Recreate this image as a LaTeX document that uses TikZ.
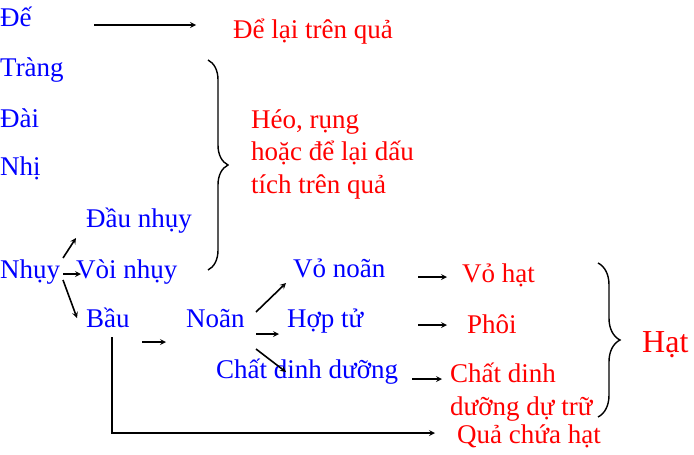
\documentclass[tikz,border=0pt]{standalone}
\usepackage{fontspec}
\setmainfont{Liberation Serif}
\usetikzlibrary{decorations.pathreplacing}
\begin{document}
\begin{tikzpicture}[x=1pt, y=1pt, >=stealth, font=\fontsize{27}{32.5}\selectfont]
    \tikzstyle{organ} = [text=blue, anchor=base west, inner sep=0pt]
    \tikzstyle{fate} = [text=red, anchor=base west, inner sep=0pt, align=left]
    \tikzstyle{link} = [->, line width=1.6pt]
    \tikzstyle{bracket} = [decorate, line width=1.4pt]
    \useasboundingbox (0,0) rectangle (694,-455);

    % flower parts
    \node [organ] (de) at (0,-26) {Đế};
    \node [organ] (trang) at (0,-76) {Tràng};
    \node [organ] (dai) at (0,-127) {Đài};
    \node [organ] (nhi) at (0,-175) {Nhị};
    \node [organ] (daunhuy) at (86,-227) {Đầu nhụy};
    \node [organ] (nhuy) at (0,-278) {Nhụy};
    \node [organ] (voinhuy) at (76,-278) {Vòi nhụy};
    \node [organ] (bau) at (86,-327) {Bầu};
    \node [organ] (noan) at (186,-327) {Noãn};
    \node [organ] (vonoan) at (293,-277) {Vỏ noãn};
    \node [organ] (hoptu) at (287,-327) {Hợp tử};
    \node [organ] (chatdd) at (216,-378) {Chất dinh dưỡng};

    % what they become
    \node [fate] (delai) at (233,-38) {Để lại trên quả};
    \node [fate] (heo) at (251,-193) {Héo, rụng\\hoặc để lại dấu\\tích trên quả};
    \node [fate] (vohat) at (462,-282) {Vỏ hạt};
    \node [fate] (phoi) at (467,-333) {Phôi};
    \node [fate, font=\fontsize{27}{33}\selectfont] (chatdt) at (450,-415) {Chất dinh\\dưỡng dự trữ};
    \node [fate] (qua) at (457,-443) {Quả chứa hạt};
    \node [fate, font=\fontsize{32}{36}\selectfont] (hat) at (642,-352) {Hạt};

    \draw [link] ([shift={(94,1)}]de.base west) -- ([shift={(-37,13)}]delai.base west);
    \draw [link] ([shift={(63,20)}]nhuy.base west) -- ([shift={(-10,-11)}]daunhuy.base west);
    \draw [link] ([shift={(63,4)}]nhuy.base west) -- ([shift={(5,4)}]voinhuy.base west);
    \draw [link] ([shift={(63,-2)}]nhuy.base west) -- ([shift={(-9,9)}]bau.base west);
    \draw [link] ([shift={(56,-15)}]bau.base west) -- ([shift={(-20,-15)}]noan.base west);
    \draw [link] ([shift={(70,15)}]noan.base west) -- ([shift={(-7,-6)}]vonoan.base west);
    \draw [link] ([shift={(70,-7)}]noan.base west) -- ([shift={(-8,-7)}]hoptu.base west);
    \draw [link] ([shift={(70,-22)}]noan.base west) -- ([shift={(70,6)}]chatdd.base west);
    \draw [link] ([shift={(125,0)}]vonoan.base west) -- ([shift={(-15,5)}]vohat.base west);
    \draw [link] ([shift={(131,2)}]hoptu.base west) -- ([shift={(-20,8)}]phoi.base west);
    \draw [link] ([shift={(196,-1)}]chatdd.base west) -- ([shift={(-8,36)}]chatdt.base west);
    \draw [link] ([shift={(26,-10)}]bau.base west) |- ([shift={(-22,10)}]qua.base west);

    \draw [bracket, decoration={brace, amplitude=20pt}] (208,-60) -- (208,-270);
    \draw [bracket, decoration={brace, amplitude=22pt}] (598,-263) -- (598,-417);
\end{tikzpicture}
\end{document}
